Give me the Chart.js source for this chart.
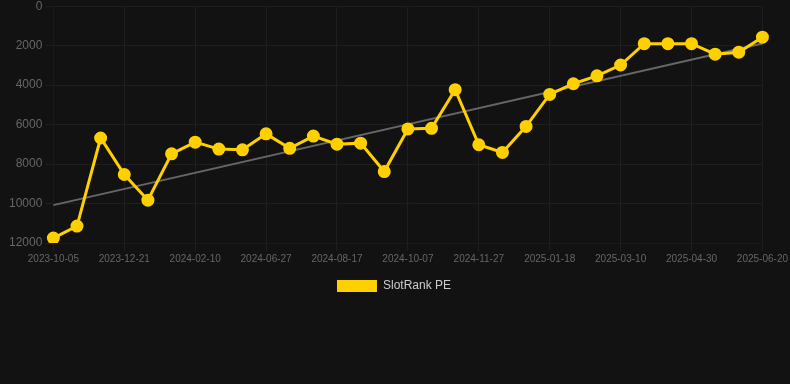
<!DOCTYPE html>
<html>
<head>
<meta charset="utf-8">
<script src="https://cdn.jsdelivr.net/npm/chart.js@4/dist/chart.umd.min.js"></script>
<style>
  html, body { margin: 0; padding: 0; background: #121212; overflow: hidden; }
  #wrap { width: 790px; height: 306px; margin-top: -4px; }
</style>
</head>
<body>
<div id="wrap"><canvas id="chart"></canvas></div>
<script>
const dates = [
  '2023-10-05', '2023-10-30', '2023-11-25', '2023-12-21', '2024-01-07', '2024-01-24',
  '2024-02-10', '2024-03-27', '2024-05-12', '2024-06-27', '2024-07-14', '2024-07-31',
  '2024-08-17', '2024-09-03', '2024-09-20', '2024-10-07', '2024-10-24', '2024-11-10',
  '2024-11-27', '2024-12-14', '2024-12-31', '2025-01-18', '2025-02-04', '2025-02-21',
  '2025-03-10', '2025-03-27', '2025-04-13', '2025-04-30', '2025-05-17', '2025-06-03',
  '2025-06-20'
];
const rankValues = [
  11750, 11140, 6680, 8530, 9830, 7480, 6890, 7240, 7280, 6470, 7200,
  6580, 6990, 6940, 8380, 6220, 6190, 4230, 7020, 7410, 6090, 4470,
  3930, 3530, 2980, 1900, 1900, 1900, 2430, 2330, 1570
];
// trend line end points (start and end of the period)
const trendStart = 10080;
const trendEnd = 1890;
const yTicks = [0, 2000, 4000, 6000, 8000, 10000, 12000];

const trendValues = dates.map((d, i) => i === 0 ? trendStart : (i === dates.length - 1 ? trendEnd : null));

Chart.defaults.font.family = '"Liberation Sans", Arial, sans-serif';

const ctx = document.getElementById('chart').getContext('2d');
const chart = new Chart(ctx, {
  type: 'line',
  data: {
    labels: dates,
    datasets: [{
      label: 'SlotRank PE',
      data: rankValues,
      borderColor: '#FFD000',
      backgroundColor: '#FFD000',
      borderWidth: 3,
      pointRadius: 5,
      pointHoverRadius: 6,
      tension: 0
    }, {
      label: 'trend',
      data: trendValues,
      borderColor: '#666666',
      borderWidth: 2,
      pointRadius: 0,
      spanGaps: true,
      fill: false
    }]
  },
  options: {
    responsive: true,
    maintainAspectRatio: false,
    animation: false,
    layout: { padding: { top: 0, right: 8, left: 6, bottom: 0 } },
    scales: {
      x: {
        grid: {
          color: c => c.index % 3 === 0 ? '#1e1e1e' : 'transparent'
        },
        ticks: {
          color: '#666',
          font: { size: 10 },
          padding: 2,
          autoSkip: false,
          maxRotation: 0,
          callback: function(value, index) {
            return index % 3 === 0 ? dates[index] : '';
          }
        }
      },
      y: {
        reverse: true,
        min: 0,
        max: 12000,
        grid: { color: '#1e1e1e' },
        afterBuildTicks: function(axis) {
          axis.ticks = yTicks.map(v => ({ value: v }));
        },
        ticks: {
          color: '#666',
          font: { size: 12 },
          callback: v => String(v)
        }
      }
    },
    plugins: {
      legend: {
        position: 'bottom',
        labels: {
          color: '#ccc',
          padding: 13,
          font: { size: 12 },
          generateLabels: function(chart) {
            return Chart.defaults.plugins.legend.labels.generateLabels(chart)
              .filter(item => item.text !== 'trend')
              .map(item => Object.assign(item, { lineWidth: 0 }));
          }
        }
      },
      tooltip: { enabled: false }
    }
  }
});
</script>
</body>
</html>
